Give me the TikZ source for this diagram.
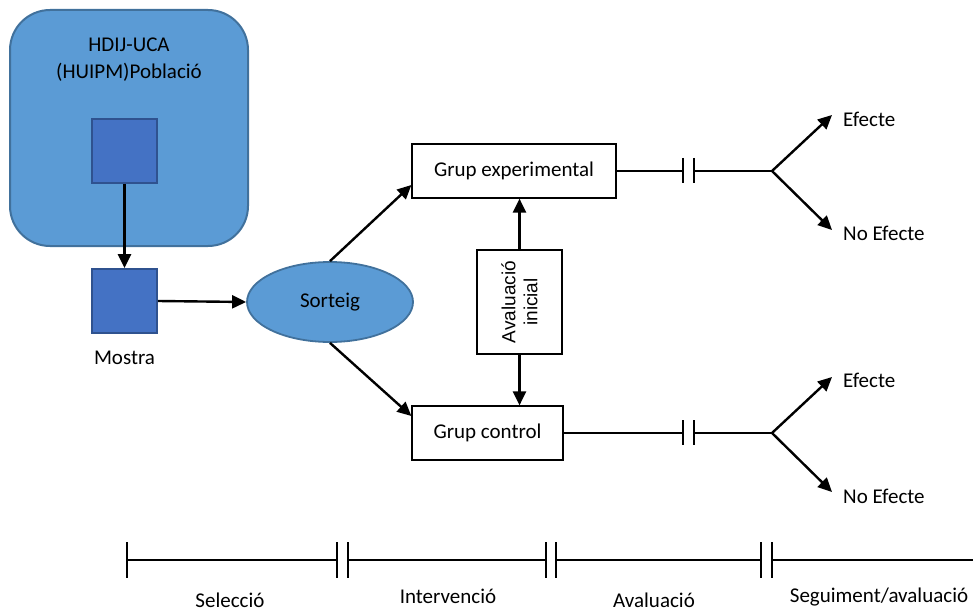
\documentclass[tikz,border=0pt]{standalone}
\usepackage{fontspec}
\setmainfont{Carlito}
\newfontfamily\arialfont{Liberation Sans}
\usetikzlibrary{arrows.meta,shapes.geometric,calc}
\definecolor{popfill}{HTML}{5B9BD5}
\definecolor{popline}{HTML}{41719C}
\definecolor{sqfill}{HTML}{4472C4}
\definecolor{sqline}{HTML}{2F528F}
\tikzset{
  txt/.style={font=\fontsize{21}{25}\selectfont, inner sep=0pt},
  popbox/.style={draw=popline, fill=popfill, line width=2pt, rounded corners=40pt, minimum width=238pt, minimum height=236pt, inner sep=0pt},
  sqbox/.style={draw=sqline, fill=sqfill, line width=1.8pt, minimum width=65pt, minimum height=64pt, inner sep=0pt},
  ellbox/.style={ellipse, draw=popline, fill=popfill, line width=1.8pt, minimum width=166pt, minimum height=80pt, inner sep=0pt, font=\fontsize{21}{25}\selectfont},
  grpbox/.style={draw=black, line width=1.2pt, minimum height=54pt, inner sep=0pt, font=\fontsize{21}{25}\selectfont},
  arr/.style={line width=2.4pt, -{Triangle[length=14pt,width=13pt]}},
  thin/.style={line width=1.3pt},
}
\begin{document}
\begin{tikzpicture}[x=1pt,y=-1pt]
\useasboundingbox (0,0) rectangle (973,612);
% population
\node[popbox] (pop) at (129,128) {};
\node[txt, align=center] (poptxt) at (129,60) {HDIJ-UCA\\[2pt](HUIPM)Població};
\node[sqbox] (sq1) at (124.5,151) {};
\node[sqbox] (sq2) at (124.5,301) {};
\node[txt] (mostra) at (124.5,358) {Mostra};
\draw[arr] (sq1) -- (sq2);
% sorteig
\node[ellbox] (sort) at (330,302) {Sorteig};
\draw[arr] (sq2.east) -- (sort.west);
% groups
\node[grpbox, minimum width=204pt] (exp) at (514,171) {Grup experimental};
\node[grpbox, minimum width=151pt] (ctrl) at (487.5,433) {Grup control};
\draw[arr] (sort.north) -- ([yshift=-14pt]exp.west);
\draw[arr] (sort.south) -- ([yshift=17pt]ctrl.west);
% avaluacio inicial
\node[draw=black, line width=1.2pt, minimum width=85pt, minimum height=104pt, inner sep=0pt] (aval) at (519.5,302) {};
\node[rotate=90, align=center, font=\arialfont\fontsize{19}{22}\selectfont, inner sep=0pt] (avaltxt) at (aval) {Avaluació\\inicial};
\draw[arr] (aval.north) -- (aval.north |- exp.south);
\draw[arr] (aval.south) -- (aval.south |- ctrl.north);
% experimental branch
\coordinate (e1) at (683,171);
\coordinate (e2) at (694,171);
\coordinate (ef) at (772,171);
\coordinate (et1) at (832,115);
\coordinate (et2) at (832,230);
\node[txt, anchor=west] (eff1) at (843,119) {Efecte};
\node[txt, anchor=west] (noeff1) at (843,233) {No Efecte};
\draw[thin] (exp.east) -- (e1);
\draw[thin] (e2) -- (ef);
\draw[thin] ([yshift=13pt]e1) -- ([yshift=-12pt]e1);
\draw[thin] ([yshift=13pt]e2) -- ([yshift=-12pt]e2);
\draw[arr] (ef) -- (et1);
\draw[arr] (ef) -- (et2);
% control branch
\coordinate (c1) at (683,433);
\coordinate (c2) at (694,433);
\coordinate (cf) at (772,433);
\coordinate (ct1) at (832,377);
\coordinate (ct2) at (832,492);
\node[txt, anchor=west] (eff2) at (843,380) {Efecte};
\node[txt, anchor=west] (noeff2) at (843,496) {No Efecte};
\draw[thin] (ctrl.east) -- (c1);
\draw[thin] (c2) -- (cf);
\draw[thin] ([yshift=13pt]c1) -- ([yshift=-12pt]c1);
\draw[thin] ([yshift=13pt]c2) -- ([yshift=-12pt]c2);
\draw[arr] (cf) -- (ct1);
\draw[arr] (cf) -- (ct2);
% timeline
\coordinate (t0) at (127,560);
\coordinate (t1a) at (337,560);
\coordinate (t1b) at (348,560);
\coordinate (t2a) at (546,560);
\coordinate (t2b) at (556,560);
\coordinate (t3a) at (761,560);
\coordinate (t3b) at (772,560);
\coordinate (tend) at (973,560);
\draw[thin] (t0) -- (t1a) (t1b) -- (t2a) (t2b) -- (t3a) (t3b) -- (tend);
\foreach \p in {t0,t1a,t1b,t2a,t2b,t3a,t3b}
  \draw[thin] ([yshift=18pt]\p) -- ([yshift=-18pt]\p);
\node[txt] (sel) at (230,600) {Selecció};
\node[txt] (int) at (448,596) {Intervenció};
\node[txt] (ava) at (654,600) {Avaluació};
\node[txt] (seg) at (879,597) {Seguiment/avaluació};
\end{tikzpicture}
\end{document}
